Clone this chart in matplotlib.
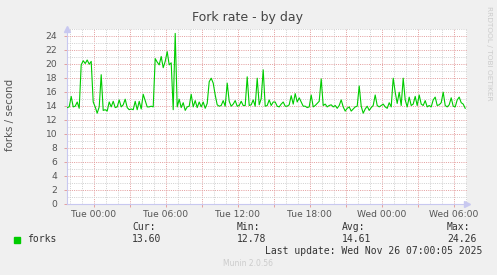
import numpy as np
import pandas as pd
import matplotlib
matplotlib.use("Agg")
import matplotlib.pyplot as plt
import matplotlib.dates as mdates

# fork rate samples, 10 minute steps starting Mon 24 Nov 21:48
forks = [
    13.7, 13.8, 15.3, 13.8, 13.9, 14.5, 13.6, 19.8, 20.4, 20.0,
    20.5, 19.9, 20.3, 14.5, 13.8, 12.9, 13.8, 18.4, 13.3, 13.4,
    13.2, 14.5, 13.8, 14.6, 13.7, 13.8, 14.8, 13.8, 14.1, 14.9,
    13.7, 13.4, 13.5, 13.4, 14.6, 13.4, 14.6, 13.5, 15.6, 14.7,
    13.8, 13.8, 13.9, 13.8, 20.7, 20.2, 19.8, 21.0, 19.4, 20.3,
    21.7, 19.8, 20.1, 13.4, 24.3, 13.8, 14.9, 13.7, 14.4, 13.3,
    13.8, 13.9, 15.6, 13.8, 14.7, 13.7, 14.5, 13.8, 14.5, 13.6,
    14.3, 17.4, 17.9, 17.2, 15.5, 14.1, 13.9, 14.0, 14.7, 13.9,
    17.2, 14.6, 13.9, 14.2, 14.7, 13.9, 14.0, 14.6, 14.0, 14.0,
    18.1, 14.0, 14.1, 14.8, 13.9, 17.9, 14.1, 15.0, 19.1, 13.9,
    14.0, 14.8, 14.0, 14.5, 14.5, 13.9, 13.8, 14.2, 14.5, 13.9,
    13.9, 14.1, 15.4, 14.2, 15.7, 14.5, 15.1, 14.5, 13.9, 13.9,
    13.7, 13.8, 15.5, 13.8, 14.0, 14.3, 14.6, 17.8, 14.0, 14.2,
    13.8, 14.0, 14.1, 13.8, 14.0, 13.6, 14.0, 14.8, 13.8, 13.2,
    13.6, 13.8, 13.2, 13.5, 13.8, 13.9, 16.8, 13.9, 12.9, 13.5,
    13.9, 13.3, 13.7, 14.0, 15.5, 14.0, 13.8, 14.0, 14.2, 13.8,
    13.6, 14.4, 13.8, 17.9, 15.9, 14.3, 15.9, 14.0, 17.9, 14.8,
    13.8, 15.2, 14.0, 14.2, 15.3, 14.0, 15.5, 14.2, 14.0, 14.7,
    13.8, 14.0, 13.8, 14.8, 15.2, 14.0, 14.1, 14.4, 15.9, 14.0,
    13.8, 14.1, 15.1, 13.9, 13.8, 14.8, 15.2, 14.4, 14.2, 13.6,
]
times = pd.date_range("2025-11-24 21:48", periods=len(forks), freq="10min")

stat_names = ["Cur:", "Min:", "Avg:", "Max:"]
stat_values = ["13.60", "12.78", "14.61", "24.26"]
last_update = "Last update: Wed Nov 26 07:00:05 2025"

GREEN = "#00cc00"
BG = "#f0f0f0"
MAJOR = "#e4a0a0"
MINOR = "#d2d2d2"
AXIS = "#c8c8f0"
TXT = "#555555"

W, H = 497, 275
fig = plt.figure(figsize=(W / 100, H / 100), dpi=100, facecolor=BG)
ax = fig.add_axes([67 / W, (H - 203.5) / H, 400 / W, 175 / H])
ax.set_facecolor("white")

x0 = pd.Timestamp("2025-11-24 21:47")
x1 = pd.Timestamp("2025-11-26 07:07")
ax.set_xlim(x0, x1)
ax.set_ylim(0, 25)

# grid: minor every hour / every unit, major every 3 hours / every 2 units
ax.xaxis.set_major_locator(mdates.HourLocator(byhour=range(0, 24, 3)))
ax.xaxis.set_minor_locator(mdates.HourLocator())
ax.yaxis.set_major_locator(plt.MultipleLocator(2))
ax.yaxis.set_minor_locator(plt.MultipleLocator(1))
ax.grid(which="minor", color=MINOR, lw=0.72, dashes=(1, 1.2))
ax.grid(which="major", color=MAJOR, lw=0.72, dashes=(1, 1.2))
ax.set_axisbelow(True)

def xfmt(v, pos):
    d = mdates.num2date(v)
    return d.strftime("%a %H:%M") if d.hour % 6 == 0 else ""

ax.xaxis.set_major_formatter(plt.FuncFormatter(xfmt))
ax.tick_params(axis="both", which="major", labelsize=6.6, colors=TXT,
               length=2.5, width=0.7, pad=2)
ax.tick_params(axis="x", which="major", color=MAJOR)
ax.tick_params(axis="y", which="major", color=MAJOR, pad=4.5)
ax.tick_params(axis="both", which="minor", length=0)

for s in ["top", "right"]:
    ax.spines[s].set_visible(False)
for s in ["left", "bottom"]:
    ax.spines[s].set_color(AXIS)
    ax.spines[s].set_linewidth(0.8)

ax.plot(times, forks, color=GREEN, lw=0.8, zorder=3)

# axis arrows
ax.plot(0, 1.0, marker="^", color=AXIS, ms=4.5, transform=ax.transAxes,
        clip_on=False)
ax.plot(1.0, 0, marker=">", color=AXIS, ms=4.5, transform=ax.transAxes,
        clip_on=False)

fig.text(248 / W, 1 - 18 / H, "Fork rate - by day", ha="center", va="center",
         fontsize=9, color="#444444")
fig.text(10.5 / W, 1 - 115 / H, "forks / second", rotation=90, ha="center",
         va="center", fontsize=7.4, color=TXT)
fig.text(488.5 / W, 1 - 53 / H, "RRDTOOL / TOBI OETIKER", rotation=270,
         ha="center", va="center", fontsize=5.3, color="#cccccc")

# legend
mono = "DejaVu Sans Mono"
fig.patches.append(plt.Rectangle((14 / W, 1 - 242.5 / H), 6 / W, 6 / H,
                                 transform=fig.transFigure, color=GREEN))
fig.text(27 / W, 1 - 239.5 / H, "forks", family=mono, fontsize=7,
         color="#333333", va="center")
for xp, name, val in zip([132, 237, 342, 447], stat_names, stat_values):
    fig.text(xp / W, 1 - 227.5 / H, name, family=mono, fontsize=7,
             color="#333333", va="center")
    fig.text(xp / W, 1 - 239.5 / H, val, family=mono, fontsize=7,
             color="#333333", va="center")
fig.text(482 / W, 1 - 251.5 / H, last_update, family=mono, fontsize=7,
         color="#333333", va="center", ha="right")
fig.text(248 / W, 1 - 264 / H, "Munin 2.0.56", fontsize=5.5,
         color="#cccccc", va="center", ha="center")

fig.savefig("out.png", dpi=100, facecolor=BG)
